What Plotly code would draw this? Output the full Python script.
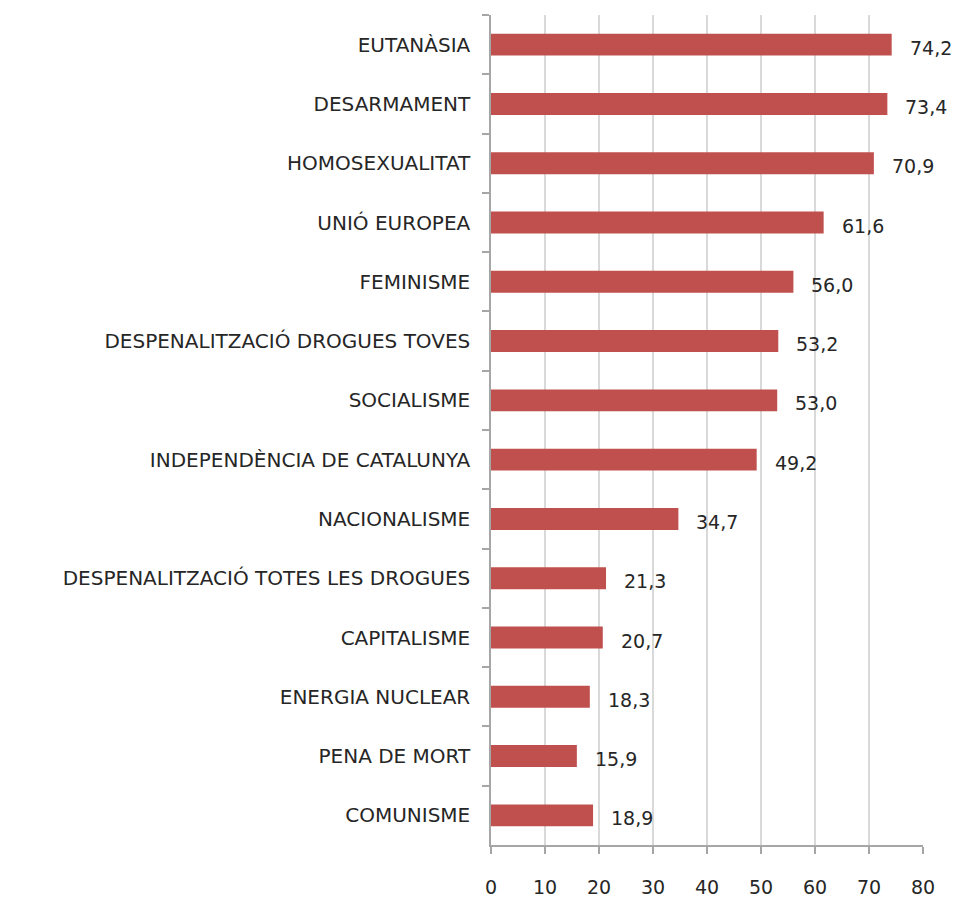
import plotly.graph_objects as go

categories = [
    "EUTANÀSIA",
    "DESARMAMENT",
    "HOMOSEXUALITAT",
    "UNIÓ EUROPEA",
    "FEMINISME",
    "DESPENALITZACIÓ DROGUES TOVES",
    "SOCIALISME",
    "INDEPENDÈNCIA DE CATALUNYA",
    "NACIONALISME",
    "DESPENALITZACIÓ TOTES LES DROGUES",
    "CAPITALISME",
    "ENERGIA NUCLEAR",
    "PENA DE MORT",
    "COMUNISME",
]
values = [74.2, 73.4, 70.9, 61.6, 56.0, 53.2, 53.0, 49.2, 34.7, 21.3, 20.7, 18.3, 15.9, 18.9]
x_ticks = [0, 10, 20, 30, 40, 50, 60, 70, 80]

FONT = "DejaVu Sans"
TXT = "#262626"

fig = go.Figure(
    go.Bar(
        x=values,
        y=categories,
        orientation="h",
        marker=dict(color="#C0504D", line=dict(width=0)),
        width=0.37,
        hoverinfo="x+y",
    )
)

for c, v in zip(categories, values):
    fig.add_annotation(
        x=v, y=c, text=f"{v:.1f}".replace(".", ","),
        xanchor="left", yanchor="middle", showarrow=False,
        xshift=16, yshift=-3,
        font=dict(family=FONT, size=19, color=TXT),
    )

fig.update_layout(
    width=952, height=890,
    margin=dict(l=483, r=37, t=7, b=53, autoexpand=False),
    plot_bgcolor="white", paper_bgcolor="white",
    showlegend=False,
    font=dict(family=FONT, size=19, color=TXT),
)
fig.update_xaxes(
    range=[0, 80], tickvals=x_ticks, ticktext=[str(t) for t in x_ticks],
    showgrid=True, gridcolor="#D9D9D9", gridwidth=1.5,
    zeroline=False, showline=True, linecolor="#A6A6A6", linewidth=1.5,
    ticks="outside", ticklen=7, tickcolor="#A6A6A6", tickwidth=1.5,
    ticklabelstandoff=17, automargin=False,
    tickfont=dict(family=FONT, size=19, color=TXT),
)
fig.update_yaxes(
    autorange="reversed", type="category",
    showgrid=False, zeroline=False,
    showline=True, linecolor="#A6A6A6", linewidth=1.5,
    ticks="outside", tickson="boundaries", ticklen=7, tickcolor="#A6A6A6", tickwidth=1.5,
    ticklabelstandoff=15, automargin=False,
    tickfont=dict(family=FONT, size=20, color=TXT),
)

fig.write_html("out.html")
